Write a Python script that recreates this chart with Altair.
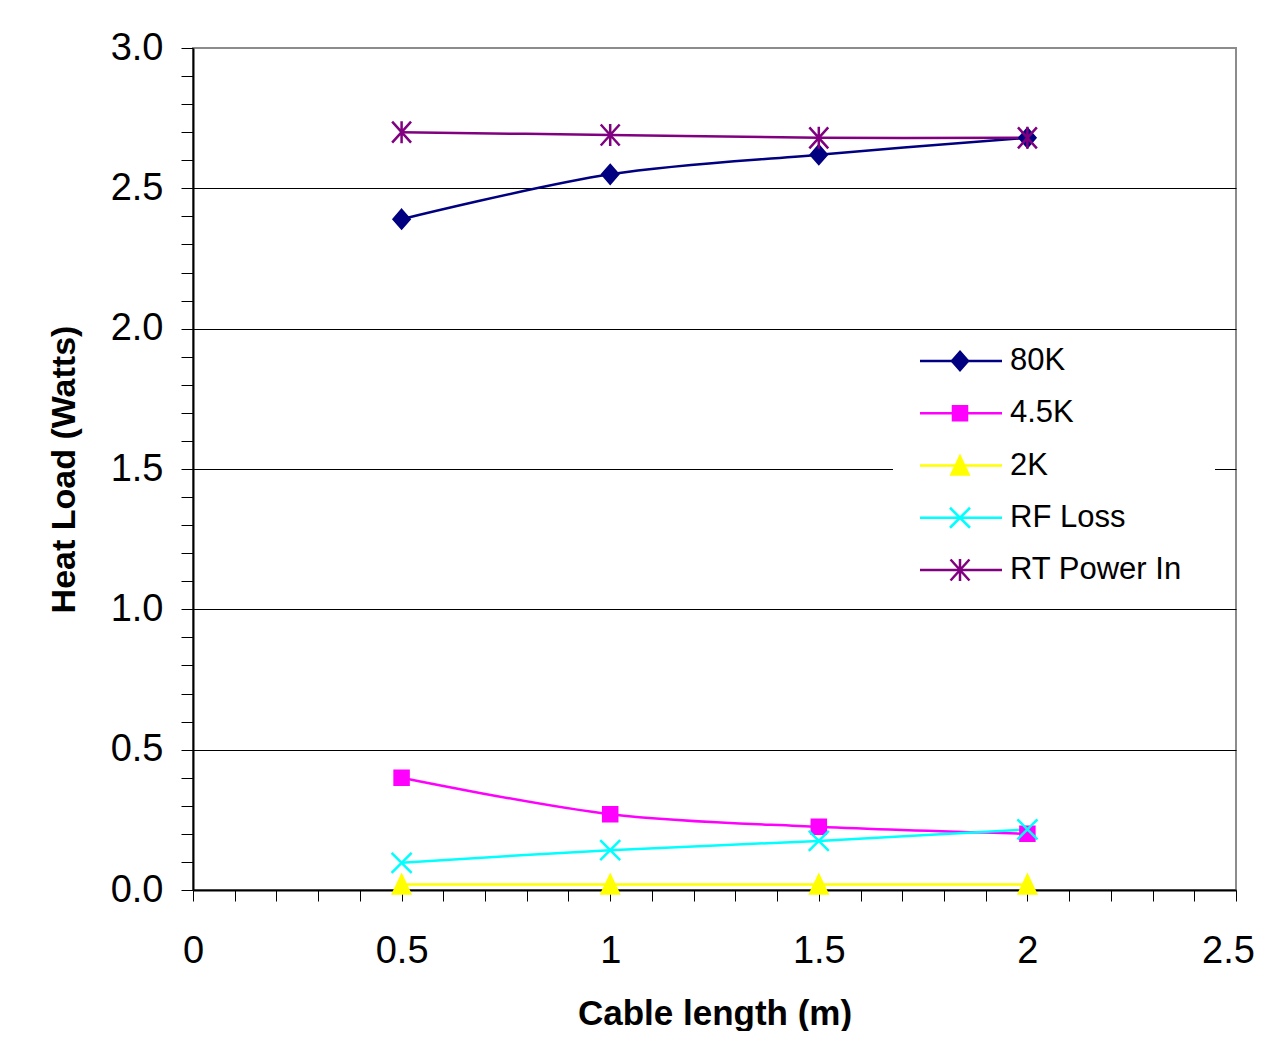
import altair as alt
import pandas as pd

# ---- data ----
series = ["80K", "4.5K", "2K", "RF Loss", "RT Power In"]
cable_length = [0.5, 1.0, 1.5, 2.0]
heat_80k = [2.39, 2.55, 2.62, 2.68]
heat_4_5k = [0.40, 0.27, 0.225, 0.20]
heat_2k = [0.02, 0.02, 0.02, 0.02]
rf_loss = [0.097, 0.142, 0.175, 0.216]
rt_power_in = [2.70, 2.69, 2.68, 2.68]

x_ticks = [round(i * 0.1, 1) for i in range(26)]
y_ticks = [round(i * 0.1, 1) for i in range(31)]

colors = ["#000080", "#FF00FF", "#FFFF00", "#00FFFF", "#800080"]
shapes = [
    "M0,-1.15L1,0L0,1.15L-1,0Z",
    "M-1,-1L1,-1L1,1L-1,1Z",
    "M0,-1L0.95,1L-0.95,1Z",
    "M-1,-1L1,1M-1,1L1,-1",
    "M-0.9,-1L0.9,1M-0.9,1L0.9,-1M0,-1.05L0,1.05",
]
sizes = [256, 196, 324, 400, 441]

values = [heat_80k, heat_4_5k, heat_2k, rf_loss, rt_power_in]
rows = []
for name, vals in zip(series, values):
    for x, y in zip(cable_length, vals):
        rows.append({"series": name, "length": x, "load": y})
df = pd.DataFrame(rows)
legend_df = pd.DataFrame({"series": series})

color_scale = alt.Scale(domain=series, range=colors)
shape_scale = alt.Scale(domain=series, range=shapes)
size_scale = alt.Scale(type="ordinal", domain=series, range=sizes)

FONT = "Liberation Sans"
half_test = "abs(datum.value*2 - round(datum.value*2)) < 0.001"

x_axis = alt.Axis(
    values=x_ticks,
    labelExpr=f"{half_test} ? '' + datum.value : ''",
    title="Cable length (m)",
    grid=False,
    tickSize=11,
    tickColor="#000",
    tickWidth=1,
    domainColor="#000",
    domainWidth=2,
    labelFontSize=38,
    labelFont=FONT,
    labelColor="#000",
    labelPadding=31,
    labelFlush=False,
    labelOverlap=False,
    labelOffset={"condition": {"test": "datum.value > 2.49", "value": -8}, "value": 0},
    titleFont=FONT,
    titleFontSize=35,
    titleFontWeight="bold",
    titleColor="#000",
    titlePadding=26,
)

y_axis = alt.Axis(
    values=y_ticks,
    labelExpr=f"{half_test} ? format(datum.value, '.1f') : ''",
    title="Heat Load (Watts)",
    grid=True,
    gridColor="#000",
    gridWidth=1,
    gridOpacity={"condition": {"test": f"{half_test} && datum.value < 2.99 && datum.value > 0.01", "value": 1}, "value": 0},
    tickSize=12,
    tickColor="#000",
    tickWidth=1,
    domainColor="#000",
    domainWidth=2,
    labelFontSize=38,
    labelFont=FONT,
    labelColor="#000",
    labelPadding=18,
    labelFlush=False,
    labelOverlap=False,
    titleFont=FONT,
    titleFontSize=34,
    titleFontWeight="bold",
    titleColor="#000",
    titlePadding=29,
)

x_scale = alt.Scale(domain=[0, 2.5], nice=False)
y_scale = alt.Scale(domain=[0, 3.0], nice=False)

lines = alt.Chart(df).mark_line(strokeWidth=2.5, interpolate="catmull-rom").encode(
    x=alt.X("length:Q", scale=x_scale, axis=x_axis),
    y=alt.Y("load:Q", scale=y_scale, axis=y_axis),
    color=alt.Color("series:N", scale=color_scale, legend=None),
    detail="series:N",
)

points = alt.Chart(df).mark_point(strokeWidth=2.5, opacity=1, fillOpacity=1).encode(
    x=alt.X("length:Q", scale=x_scale, axis=x_axis),
    y=alt.Y("load:Q", scale=y_scale, axis=y_axis),
    color=alt.Color("series:N", scale=color_scale, legend=None),
    fill=alt.Fill("series:N", scale=color_scale, legend=None),
    shape=alt.Shape("series:N", scale=shape_scale, legend=None),
    size=alt.Size("series:N", scale=size_scale, legend=None),
)

main = alt.layer(lines, points)

leg_y = alt.Y(
    "series:N",
    scale=alt.Scale(type="point", domain=series, range=[313, 522], padding=0),
    axis=None,
)

leg_bg = alt.Chart(pd.DataFrame({"series": [series[0]]})).mark_rect(fill="white").encode(
    x=alt.value(700), x2=alt.value(1022), y=alt.value(287), y2=alt.value(552)
)
leg_line = alt.Chart(legend_df).mark_rule(strokeWidth=2.5).encode(
    x=alt.value(727), x2=alt.value(809), y=leg_y,
    color=alt.Color("series:N", scale=color_scale, legend=None),
)
leg_pt = alt.Chart(legend_df).mark_point(strokeWidth=2.5, opacity=1, fillOpacity=1).encode(
    x=alt.value(767), y=leg_y,
    color=alt.Color("series:N", scale=color_scale, legend=None),
    fill=alt.Fill("series:N", scale=color_scale, legend=None),
    shape=alt.Shape("series:N", scale=shape_scale, legend=None),
    size=alt.Size("series:N", scale=size_scale, legend=None),
)
leg_text = alt.Chart(legend_df).mark_text(
    align="left", baseline="middle", fontSize=31, font=FONT, color="#000"
).encode(x=alt.value(817), y=leg_y, text="series:N")

legend = alt.layer(leg_bg, leg_line, leg_pt, leg_text)

chart = (
    alt.layer(main, legend)
    .resolve_scale(y="independent")
    .properties(
        width=1043,
        height=842,
        padding={"left": 185, "top": 40, "right": 18, "bottom": 141},
        autosize=alt.AutoSizeParams(type="none"),
        background="white",
    )
    .configure_view(stroke="#8c8c8c", strokeWidth=2)
)

chart.save("out.html", embed_options={"renderer": "svg", "actions": False})
